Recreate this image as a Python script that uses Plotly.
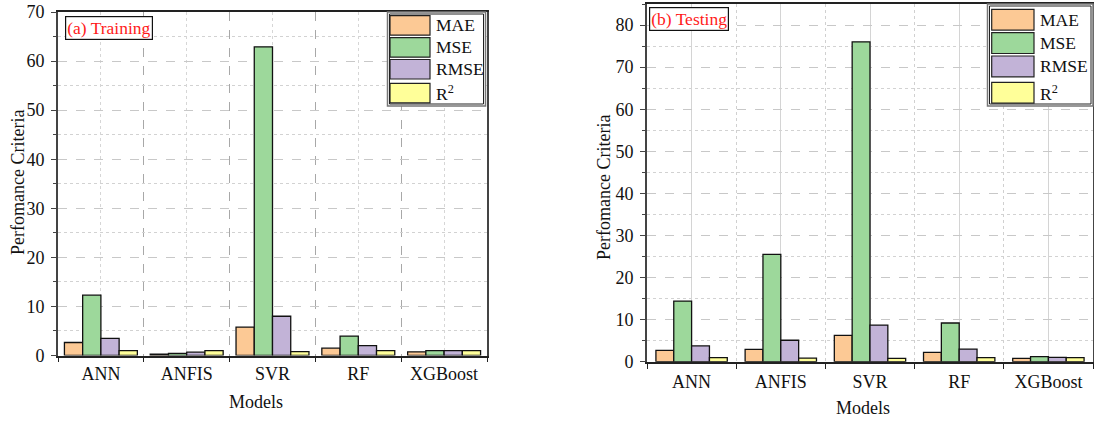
import plotly.graph_objects as go

# ---- data ----
models = ["ANN", "ANFIS", "SVR", "RF", "XGBoost"]
metrics = ["MAE", "MSE", "RMSE", "R<sup>2</sup>"]
colors = ["#FCC995", "#9DD89B", "#C2B3D7", "#FFFF99"]

train_mae = [2.65, 0.3, 5.8, 1.5, 0.75]
train_mse = [12.3, 0.45, 62.9, 3.95, 1.0]
train_rmse = [3.5, 0.68, 8.0, 2.0, 1.0]
train_r2 = [0.98, 0.99, 0.8, 0.98, 1.0]

test_mae = [2.7, 2.95, 6.25, 2.2, 0.8]
test_mse = [14.4, 25.5, 76.0, 9.2, 1.2]
test_rmse = [3.75, 5.1, 8.7, 3.0, 1.03]
test_r2 = [0.95, 0.87, 0.78, 0.95, 0.98]

W, H = 1094, 421
FONT = "Liberation Serif"


def px(x):
    return x / W


def py(y):
    return 1 - y / H


xpos = list(range(1, len(models) + 1))
bounds = [i + 0.5 for i in range(0, len(models) + 1)]

fig = go.Figure()


def add_panel(series, xa, ya, group_width):
    bw = group_width / len(series)
    for i, (name, vals, col) in enumerate(zip(metrics, series, colors)):
        fig.add_trace(go.Bar(
            x=xpos, y=vals, name=name, width=bw, offset=-group_width / 2 + i * bw,
            marker=dict(color=col, line=dict(color="#111", width=1.3)),
            xaxis=xa, yaxis=ya, showlegend=False))


add_panel([train_mae, train_mse, train_rmse, train_r2], "x", "y", 0.85)
add_panel([test_mae, test_mse, test_rmse, test_r2], "x2", "y2", 0.80)

tickfont = dict(family=FONT, size=18, color="#111")

common_y = dict(
    tickmode="linear", tick0=0, dtick=10, ticks="outside", ticklen=5, tickcolor="#444",
    showline=True, linecolor="#444", linewidth=1.6, mirror=True, zeroline=False,
    showgrid=True, gridcolor="#c8c8c8", griddash="dash", gridwidth=1,
    minor=dict(dtick=5, tick0=0, ticks="outside", ticklen=3, tickcolor="#444",
               showgrid=True, gridcolor="#d2d2d2", griddash="dot", gridwidth=1),
    tickfont=tickfont, automargin=False, ticklabelstandoff=3,
)
common_x = dict(
    range=[0.5, 5.5], tickmode="array", tickvals=xpos, ticktext=models, ticks="",
    showline=True, linecolor="#222", linewidth=1.8, mirror=True, zeroline=False,
    tickfont=tickfont, automargin=False,
)

fig.update_layout(
    template="none",
    width=W, height=H, margin=dict(l=0, r=0, t=0, b=0, pad=0), autosize=False,
    paper_bgcolor="white", plot_bgcolor="white",
    barmode="overlay", showlegend=False,
    font=dict(family=FONT, color="#111"),
    xaxis=dict(domain=[px(58), px(487)], anchor="y", ticklabelstandoff=1,
               showgrid=True, gridcolor="#d6d6d6", griddash="dot", gridwidth=1,
               minor=dict(tickvals=bounds, ticks="outside", ticklen=5, tickcolor="#222",
                          showgrid=True, gridcolor="#a8a8a8", griddash="dash", gridwidth=1),
               **common_x),
    yaxis=dict(domain=[py(355.5), py(12)], anchor="x", range=[0, 70], **common_y),
    xaxis2=dict(domain=[px(647), px(1093)], anchor="y2", ticklabelstandoff=3,
                showgrid=True, gridcolor="#d4d4d4", griddash="solid", gridwidth=1,
                minor=dict(tickvals=bounds, ticks="outside", ticklen=5, tickcolor="#222",
                           showgrid=True, gridcolor="#d0d0d0", griddash="dot", gridwidth=1),
                **common_x),
    yaxis2=dict(domain=[py(361.7), py(4)], anchor="x2", range=[0, 85], **common_y),
)

# ---- axis titles ----
ann = []
title_font = dict(family=FONT, size=18, color="#111")
ann.append(dict(x=px(256), y=py(402), xref="paper", yref="paper", text="Models", showarrow=False,
                font=title_font, xanchor="center", yanchor="middle"))
ann.append(dict(x=px(863), y=py(408), xref="paper", yref="paper", text="Models", showarrow=False,
                font=title_font, xanchor="center", yanchor="middle"))
ann.append(dict(x=px(18), y=py(183), xref="paper", yref="paper", text="Perfomance Criteria", showarrow=False,
                font=title_font, textangle=-90, xanchor="center", yanchor="middle"))
ann.append(dict(x=px(604), y=py(188), xref="paper", yref="paper", text="Perfomance Criteria", showarrow=False,
                font=title_font, textangle=-90, xanchor="center", yanchor="middle"))

# ---- panel labels ----
label_font = dict(family=FONT, size=17.5, color="#ff1a1a")
ann.append(dict(x=px(65), y=py(16), xref="paper", yref="paper", text="(a) Training", showarrow=False,
                font=label_font, xanchor="left", yanchor="top", bordercolor="#111", borderwidth=1.2,
                borderpad=1, bgcolor="white"))
ann.append(dict(x=px(649), y=py(6.5), xref="paper", yref="paper", text="(b) Testing", showarrow=False,
                font=label_font, xanchor="left", yanchor="top", bordercolor="#111", borderwidth=1.2,
                borderpad=1, bgcolor="white"))

# ---- legends (drawn as boxes) ----
shapes = []
legend_specs = [
    dict(box=(387.5, 12, 485.5, 106), sw=(390, 430), rows=[15.7, 37.7, 59.5, 83.3], sh=19.5, tx=434),
    dict(box=(987.5, 4, 1093, 106), sw=(991.7, 1034), rows=[9.3, 32.7, 56, 82.3], sh=20.8, tx=1038),
]
legend_font = dict(family=FONT, size=17.5, color="#111")
for spec in legend_specs:
    x0, y0, x1, y1 = spec["box"]
    shapes.append(dict(type="rect", xref="paper", yref="paper", x0=px(x0), x1=px(x1), y0=py(y1), y1=py(y0),
                       line=dict(color="#777", width=1.5), fillcolor="white", layer="above"))
    shapes.append(dict(type="rect", xref="paper", yref="paper", x0=px(x0 + 2), x1=px(x1 - 2), y0=py(y1 - 2),
                       y1=py(y0 + 2), line=dict(color="#222", width=1), fillcolor="rgba(0,0,0,0)", layer="above"))
    for name, col, top in zip(metrics, colors, spec["rows"]):
        shapes.append(dict(type="rect", xref="paper", yref="paper", x0=px(spec["sw"][0]), x1=px(spec["sw"][1]),
                           y0=py(top + spec["sh"]), y1=py(top), line=dict(color="#222", width=1.2),
                           fillcolor=col, layer="above"))
        ann.append(dict(x=px(spec["tx"]), y=py(top + spec["sh"] / 2), xref="paper", yref="paper", text=name,
                        showarrow=False, font=legend_font, xanchor="left", yanchor="middle"))

fig.update_layout(annotations=ann, shapes=shapes)

fig.write_html("out.html")
